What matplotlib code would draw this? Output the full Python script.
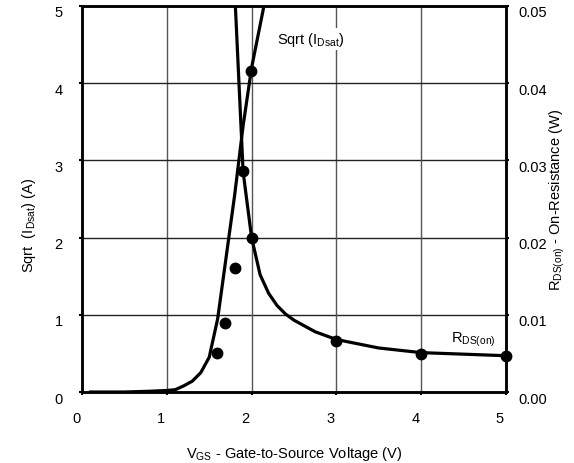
import matplotlib
matplotlib.use('Agg')
import matplotlib.pyplot as plt
import matplotlib.transforms as mtransforms

plt.rcParams['font.family'] = ['Liberation Sans', 'DejaVu Sans']
plt.rcParams['font.size'] = 10.5

# Sqrt(IDsat) 曲线 (左轴, A)
vgs_sqrt = [0.1, 0.5, 0.8, 1.0, 1.1, 1.2, 1.3, 1.4, 1.5, 1.6, 1.7, 1.8, 1.9, 2.0, 2.1, 2.2]
sqrt_id = [0.0, 0.0, 0.01, 0.02, 0.03, 0.08, 0.14, 0.25, 0.45, 0.95, 1.75, 2.55, 3.45, 4.2, 4.75, 5.3]

# RDS(on) 曲线 (右轴, W)
vgs_rds = [1.8, 1.9, 2.0, 2.1, 2.2, 2.3, 2.4, 2.5, 2.75, 3.0, 3.5, 4.0, 4.5, 5.0]
rds_on = [0.052, 0.0285, 0.020, 0.0152, 0.0128, 0.0112, 0.0101, 0.0093, 0.0078,
          0.0068, 0.0057, 0.0051, 0.0049, 0.0047]

# 测量点
meas_vgs_sqrt = [1.59, 1.69, 1.80, 1.90, 1.99]
meas_sqrt = [0.5, 0.9, 1.61, 2.86, 4.16]
meas_vgs_rds = [2.0, 3.0, 4.0, 5.0]
meas_rds = [0.020, 0.0066, 0.0049, 0.0047]

fig = plt.figure(figsize=(5.74, 4.64), dpi=100)
ax = fig.add_axes([0.1429, 0.153, 0.7386, 0.832])
ax2 = ax.twinx()

# 网格
for v in [1, 2, 3, 4]:
    ax.axvline(v, color='#555555', lw=1.0, zorder=1)
    ax.axhline(v, color='#222222', lw=1.0, zorder=1)

ax.plot(vgs_sqrt, sqrt_id, color='black', lw=2.3, zorder=3, clip_on=True)
ax.plot(meas_vgs_sqrt, meas_sqrt, 'o', color='black', ms=7.5, zorder=4)
ax2.plot(vgs_rds, rds_on, color='black', lw=2.3, zorder=3)
ax2.plot(meas_vgs_rds, meas_rds, 'o', color='black', ms=7.5, zorder=4, clip_on=False)

ax.set_xlim(0, 5)
ax.set_ylim(0, 5)
ax2.set_ylim(0, 0.05)
ax.set_xticks([0, 1, 2, 3, 4, 5])
ax.set_yticks([0, 1, 2, 3, 4, 5])
ax2.set_yticks([0.0, 0.01, 0.02, 0.03, 0.04, 0.05])
ax2.set_yticklabels(['0.00', '0.01', '0.02', '0.03', '0.04', '0.05'])

for a in (ax, ax2):
    for s in a.spines.values():
        s.set_linewidth(1.8)
    a.tick_params(length=2, width=1.5, direction='out')
ax.tick_params(axis='x', pad=12)
ax.tick_params(axis='y', pad=12)
ax2.tick_params(axis='y', pad=7)

# 刻度标签微调
dx = mtransforms.ScaledTranslation(-0.06, 0, fig.dpi_scale_trans)
for lbl in ax.get_xticklabels():
    lbl.set_transform(lbl.get_transform() + dx)
dy = mtransforms.ScaledTranslation(0, -0.05, fig.dpi_scale_trans)
for lbl in ax.get_yticklabels() + ax2.get_yticklabels():
    lbl.set_transform(lbl.get_transform() + dy)

ax.set_xlabel(r'V$_{\mathregular{GS}}$ - Gate-to-Source Voltage (V)')
ax.xaxis.set_label_coords(0.5, -0.135)
ax.set_ylabel(r'Sqrt  (I$_{\mathregular{Dsat}}$) (A)')
ax.yaxis.set_label_coords(-0.103, 0.435)
ax2.set_ylabel(r'R$_{\mathregular{DS(on)}}$ - On-Resistance (W)')
ax2.yaxis.set_label_coords(1.097, 0.5)

ax.text(2.3, 4.57, r'Sqrt (I$_{\mathregular{Dsat}}$)', ha='left', va='center', zorder=5,
        bbox=dict(facecolor='white', edgecolor='none', pad=1.5))
ax.text(4.61, 0.69, r'R$_{\mathregular{DS(on)}}$', ha='center', va='center', zorder=5)

fig.savefig('out.png', dpi=100)
